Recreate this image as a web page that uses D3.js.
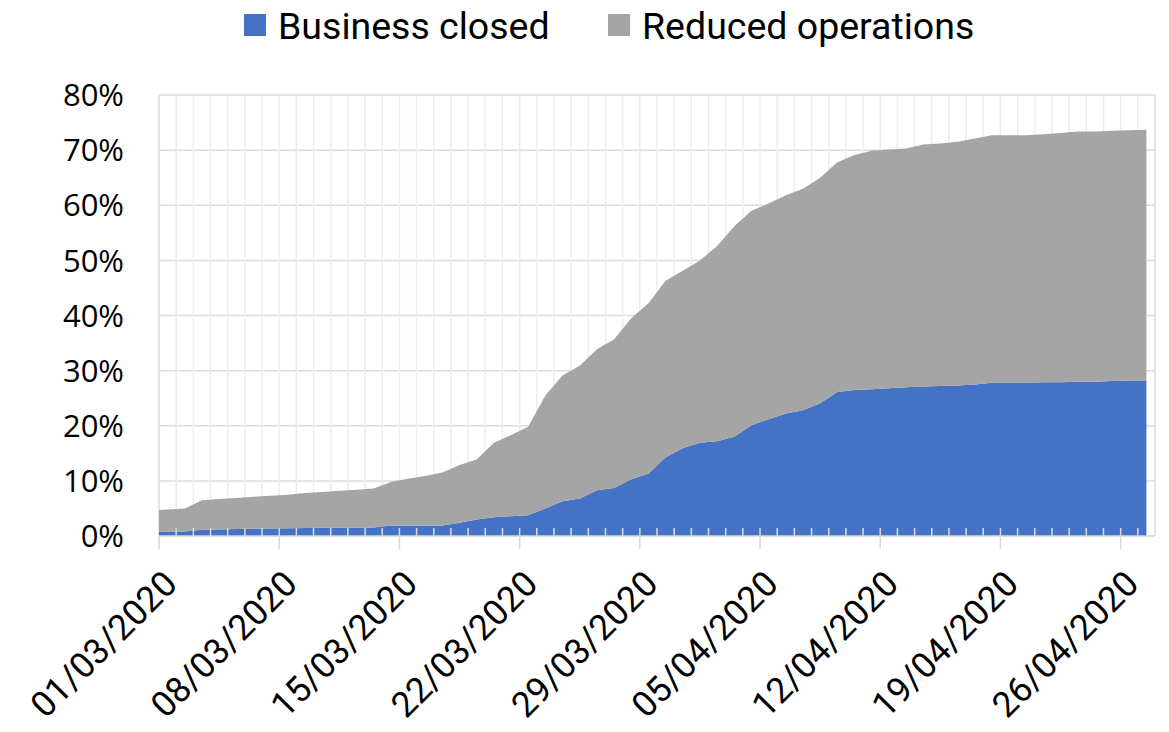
<!DOCTYPE html>
<html>
<head>
<meta charset="utf-8">
<script src="https://cdn.jsdelivr.net/npm/d3@7"></script>
<style>
  body { margin: 0; background: #fff; }
  text { font-family: "Open Sans", sans-serif; fill: #000; }
  .xlab, .legend text { font-family: Roboto, sans-serif; }
</style>
</head>
<body>
<div class="chart"></div>
<script>
// daily series, 01/03/2020 .. 27/04/2020 (share of businesses, %)
const closed = [0.8, 0.8, 1.15, 1.2, 1.25, 1.3, 1.35, 1.4, 1.45, 1.5,
  1.5, 1.55, 1.55, 1.9, 1.9, 1.9, 1.9, 2.4, 3.0, 3.4,
  3.6, 3.75, 5.0, 6.3, 6.8, 8.3, 8.7, 10.3, 11.3, 14.3,
  15.9, 16.9, 17.2, 18.0, 20.1, 21.2, 22.2, 22.8, 24.1, 26.1,
  26.5, 26.6, 26.8, 27.0, 27.1, 27.2, 27.3, 27.5, 27.8, 27.8,
  27.8, 27.9, 27.9, 28.0, 28.0, 28.1, 28.2, 28.2];
const reduced = [3.9, 4.2, 5.35, 5.5, 5.65, 5.8, 5.95, 6.1, 6.35, 6.5,
  6.7, 6.85, 7.05, 7.9, 8.5, 9.0, 9.6, 10.5, 10.9, 13.5,
  14.7, 16.05, 20.5, 22.8, 24.1, 25.6, 27.0, 29.2, 30.9, 32.0,
  32.2, 33.1, 35.4, 38.2, 38.9, 39.1, 39.6, 40.2, 40.9, 41.7,
  42.6, 43.3, 43.3, 43.3, 43.9, 44.0, 44.2, 44.6, 44.9, 44.9,
  44.9, 45.0, 45.2, 45.4, 45.4, 45.4, 45.4, 45.5];
const seriesNames = ["Business closed", "Reduced operations"];
const tickLabels = ["01/03/2020", "08/03/2020", "15/03/2020", "22/03/2020", "29/03/2020",
  "05/04/2020", "12/04/2020", "19/04/2020", "26/04/2020"];
const yTicks = [0, 10, 20, 30, 40, 50, 60, 70, 80];

var width = 1169, height = 732;
var margin = { top: 95, left: 159, right: 14, bottom: 196 };

var svg = d3.select(".chart").append("svg")
  .attr("width", width)
  .attr("height", height);

var color = d3.scaleOrdinal().domain(seriesNames).range(["#4472C4", "#A5A5A5"]);

var nDays = closed.length; // 58
var x = d3.scaleLinear().domain([0, nDays]).range([margin.left, width - margin.right]);
var y = d3.scaleLinear().domain([0, 80]).range([height - margin.bottom, margin.top]);

var rows = closed.map((c, i) => ({ i: i, "Business closed": c, "Reduced operations": reduced[i] }));
var stacked = d3.stack().keys(seriesNames)(rows);

// gridlines
svg.append("g").selectAll("line.h")
  .data(yTicks)
  .enter().append("line")
  .attr("x1", x(0)).attr("x2", x(nDays))
  .attr("y1", d => y(d)).attr("y2", d => y(d))
  .attr("stroke", "#dcdcdc").attr("stroke-width", 1.5);

svg.append("g").selectAll("line.v")
  .data(d3.range(nDays + 1))
  .enter().append("line")
  .attr("x1", d => x(d)).attr("x2", d => x(d))
  .attr("y1", y(80)).attr("y2", y(0))
  .attr("stroke", d => (d === 0 || d === nDays) ? "#dcdcdc" : "#ececec")
  .attr("stroke-width", 1.5);

// points sit in the middle of each day, first one pinned to the axis
var area = d3.area()
  .x(d => x(d.data.i === 0 ? 0 : d.data.i + 0.5))
  .y0(d => y(d[0]))
  .y1(d => y(d[1]));

svg.append("g").selectAll("path")
  .data(stacked)
  .enter().append("path")
  .attr("fill", d => color(d.key))
  .attr("d", area);

// x axis: daily minor ticks inside, weekly major ticks outside
svg.append("line")
  .attr("x1", x(0)).attr("x2", x(nDays))
  .attr("y1", y(0)).attr("y2", y(0))
  .attr("stroke", "#d9d9d9").attr("stroke-width", 1.5);

svg.append("g").selectAll("line")
  .data(d3.range(1, nDays))
  .enter().append("line")
  .attr("x1", d => x(d)).attr("x2", d => x(d))
  .attr("y1", y(0) - 8).attr("y2", y(0))
  .attr("stroke", "#d9d9d9").attr("stroke-width", 1.5);

svg.append("g").selectAll("line")
  .data(tickLabels)
  .enter().append("line")
  .attr("x1", (d, i) => x(i * 7)).attr("x2", (d, i) => x(i * 7))
  .attr("y1", y(0)).attr("y2", y(0) + 13)
  .attr("stroke", "#d9d9d9").attr("stroke-width", 1.5);

svg.append("g").selectAll("text")
  .data(tickLabels)
  .enter().append("text")
  .attr("class", "xlab")
  .attr("text-anchor", "end")
  .attr("font-size", 35.5)
  .attr("transform", (d, i) => "translate(" + (x(i * 7) + 20) + "," + (y(0) + 50) + ") rotate(-45)")
  .text(d => d);

// y labels
svg.append("g").selectAll("text")
  .data(yTicks)
  .enter().append("text")
  .attr("x", 124)
  .attr("y", d => y(d))
  .attr("dy", "0.36em")
  .attr("text-anchor", "end")
  .attr("font-size", 31)
  .text(d => d + "%");

// legend
var legendX = [244, 608];
var legend = svg.append("g").attr("class", "legend").selectAll("g")
  .data(seriesNames)
  .enter().append("g")
  .attr("transform", (d, i) => "translate(" + legendX[i] + ",14)");

legend.append("rect")
  .attr("width", 22).attr("height", 22)
  .attr("fill", d => color(d));

legend.append("text")
  .attr("x", 34).attr("y", 11)
  .attr("dy", "0.36em")
  .attr("font-size", 37.5)
  .text(d => d);
</script>
</body>
</html>
